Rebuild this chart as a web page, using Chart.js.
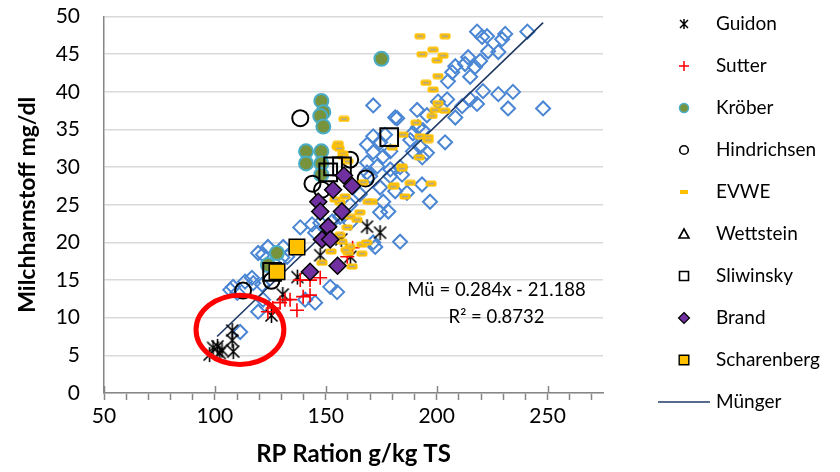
<!DOCTYPE html>
<html>
<head>
<meta charset="utf-8">
<script src="https://cdn.jsdelivr.net/npm/chart.js@4/dist/chart.umd.min.js"></script>
<style>
  html, body { margin: 0; padding: 0; background: #fff; }
  #chart { display: block; }
</style>
</head>
<body>
<canvas id="chart" width="840" height="472"></canvas>
<script>
// Axis ranges / ticks
const xMin = 50, xMax = 275, xStep = 10, xLabelStep = 50;
const yMin = 0, yMax = 50, yStep = 5;

// Series values, [RP g/kg TS, Milchharnstoff mg/dl]
const guidon = [[99.2,6],[101.2,6.2],[103.2,5.7],[108.3,5.5],[107.8,7],[107.8,8.3],[97.6,5.1],[102.2,5.3],
  [125.5,10.3],[130.6,13.1],[137.2,15.4],[147.5,18.3],[161.1,18.1],[157,20.4],[168.6,22.1],[174.5,21.3]];
const sutter = [[123.9,10.8],[126.1,11.3],[129.4,12],[131.6,12.4],[133.9,12.4],[137,11],[139.8,12.8],
  [142.9,13],[138.5,15],[142.9,15],[147.5,15.3],[159.7,18.1],[162.1,19.3]];
const kroeber = [[175.1,44.4],[148,38.8],[148.9,37.3],[147.5,36.8],[148.9,35.4],[141.1,32.1],[148,32.1],
  [141.1,30.5],[148,30.5],[148,29],[128,18.6],[123.9,17]];
const hindrichsen = [[138.5,36.5],[144,27.8],[148.3,27],[161,31],[168,28.5],[112.7,13.6],[125.5,14.9]];
const evwe = [[192.5,47.4],[203.8,47.4],[193.4,45],[198.4,45.6],[202.9,44.8],[200.2,44.2],[200.6,42.1],
  [195.2,41.2],[198.4,40.3],[200.6,38.5],[199.3,37.6],[203.7,37.5],[197.9,36.8],[190.7,35.9],[184.8,34.3],
  [192.5,34.1],[196.2,34],[196.2,33.6],[192.1,31.3],[158.2,36.4],[155.6,33.1],[155.1,32.7],[157.8,31.8],
  [156,32.5],[157.8,31.4],[160,30.8],[184.4,30.1],[184.4,29.8],[180.8,27.6],[188.1,27.9],[197.5,27.8],
  [185.7,26.1],[180,32.6],[170.9,25.4],[166.9,28],[169.1,25.4],[165.4,24],[161,23.4],[164.1,23],
  [159.7,22],[156.4,21],[161,19.4],[160.1,18.6],[166.3,18.5],[158.7,26.1],[156.4,25.3],[154.2,25.7],
  [157.3,20.1],[166.3,19.7],[168.4,20],[152.4,18.8],[159.1,19],[148.3,17.3],[161.9,16.8],[180.4,27.4]];
const wettstein = [];
const sliwinsky = [[178.6,34],[153.3,30.1],[151.1,29.3],[157.3,30.1],[125.8,16.1]];
const brand = [[158.2,28.9],[161.9,27.5],[153.3,27],[146.6,25.4],[147.5,24.1],[157.3,24.1],[151.1,22.1],
  [148.3,20.4],[152,20.4],[155.3,16.9],[142.9,16.1]];
const scharenberg = [[137,19.4],[128,16.1]];
const munger = [[218.2,48],[220.5,47.3],[222.7,47.4],[230.9,47.7],[229.5,47],[240.9,48],[223.2,45.4],
  [227.8,45.3],[219.6,44.1],[214.2,44.6],[212.8,43.7],[217.3,43.3],[208.4,43.4],[207,42.6],[215.1,42],
  [205.1,41.4],[204.7,39],[215.1,39],[220.9,40.1],[227.8,39.7],[234.4,40],[232.2,37.8],[248,37.8],
  [218.2,38.4],[211.5,38.1],[208.4,36.6],[191.2,37.6],[200.6,38.7],[195.6,36.9],[182.2,36.5],[191.6,35.3],
  [189.3,34.5],[193.8,34.9],[203.8,33.3],[176.7,34.3],[179.1,32.1],[188.1,33.6],[192.5,32.7],[195.6,31.9],
  [189.3,32.1],[193.5,31.3],[171.4,38.2],[181.3,36.6],[175.9,31.4],[173.2,30.1],[179.1,29.7],[184.4,29],
  [193.4,27.7],[181.3,26.8],[186.6,26.6],[197,25.4],[175.9,25.4],[178.2,24.1],[183.5,20.1],[168.6,33],
  [168.6,30.6],[165.4,26.4],[161,25],[161,22.6],[156.4,23.4],[152.9,22.8],[147.5,22.6],[143.8,22.4],
  [138.5,22],[145.2,21.3],[150.6,20.6],[130.8,19.4],[123.9,19.4],[121.7,18.4],[130.4,18],[119.5,18.6],
  [132.6,18.1],[116.7,15.3],[117.3,14.6],[113.6,14.8],[108.2,14.1],[106.9,13.7],[110.1,13.3],[121.3,14.4],
  [121.7,12.4],[145.2,12],[152,14.1],[155.1,13.4],[172.3,19.4],[174.5,24],[111.4,8.1],[119.5,10.8],
  [140.7,12.4],[171.4,20],[171.4,34.1],[174.5,33.3],[168.6,29.3],[179.1,28.8],[183.5,30],[174.5,27.3],
  [171.4,32],[170,28.8]];
const mungerLine = [[101,7.5],[248,49.2]];

const equationLines = ['Mü = 0.284x - 21.188', 'R² = 0.8732'];

// Annotation placement (in data units)
const ellipseCenter = [111.3, 8.4];
const ellipseRadius = [19.8, 4.6];
const equationAnchor = [227, 13.7, 10.1];

const FONT = 'Lato, "Liberation Sans", sans-serif';

/**
 * Small canvas markers for styles Chart.js does not have
 */
function asterisk(size, lw) {
  const c = document.createElement('canvas');
  c.width = size; c.height = size;
  const g = c.getContext('2d');
  const m = size / 2, r = size / 2 - 1;
  g.strokeStyle = '#000';
  g.lineWidth = lw;
  g.beginPath();
  g.moveTo(m - r * 0.8, m - r * 0.8); g.lineTo(m + r * 0.8, m + r * 0.8);
  g.moveTo(m + r * 0.8, m - r * 0.8); g.lineTo(m - r * 0.8, m + r * 0.8);
  g.moveTo(m, m - r); g.lineTo(m, m + r);
  g.stroke();
  return c;
}

function dash(w, h) {
  const c = document.createElement('canvas');
  c.width = w; c.height = h;
  const g = c.getContext('2d');
  g.fillStyle = '#FFC000';
  g.beginPath();
  g.roundRect(0.5, 0.5, w - 1, h - 1, 2);
  g.fill();
  g.strokeStyle = '#A0A4B0';
  g.lineWidth = 1.4;
  g.beginPath();
  g.moveTo(3, h / 2); g.lineTo(w - 3, h / 2);
  g.stroke();
  return c;
}

const guidonImg = asterisk(17, 1.6);
const guidonLegendImg = asterisk(12, 1.5);
const evweImg = dash(12, 7);

const pts = arr => arr.map(([x, y]) => ({ x, y }));

// Legend rows (drawn by the plugin below)
const legendRows = [
  { label: 'Guidon', shape: 'image', img: guidonLegendImg },
  { label: 'Sutter', shape: 'cross', r: 5, stroke: '#FF0000', lw: 1.5 },
  { label: 'Kröber', shape: 'circle', r: 4.5, fill: '#77933C', stroke: '#4BACC6', lw: 1.5 },
  { label: 'Hindrichsen', shape: 'circle', r: 4.3, stroke: '#000', lw: 1.6 },
  { label: 'EVWE', shape: 'rect2', w: 8, h: 4, fill: '#FFC000' },
  { label: 'Wettstein', shape: 'triangle', r: 5, stroke: '#000', lw: 1.6 },
  { label: 'Sliwinsky', shape: 'rect', r: 4.5, stroke: '#000', lw: 1.6 },
  { label: 'Brand', shape: 'diamond', r: 5.5, fill: '#7030A0', stroke: '#000', lw: 1.2 },
  { label: 'Scharenberg', shape: 'rect', r: 4.8, fill: '#FFC000', stroke: '#000', lw: 1.4 },
  { label: 'Münger', shape: 'line', r: 26, stroke: '#1F3864', lw: 1.5 }
];

function drawMarker(ctx, m, cx, cy) {
  ctx.save();
  if (m.shape === 'image') {
    ctx.drawImage(m.img, Math.round(cx - m.img.width / 2), Math.round(cy - m.img.height / 2));
    ctx.restore();
    return;
  }
  const r = m.r;
  ctx.lineWidth = m.lw || 1.5;
  ctx.beginPath();
  switch (m.shape) {
    case 'cross':
      ctx.moveTo(cx - r, cy); ctx.lineTo(cx + r, cy);
      ctx.moveTo(cx, cy - r); ctx.lineTo(cx, cy + r);
      break;
    case 'circle':
      ctx.arc(cx, cy, r, 0, Math.PI * 2);
      break;
    case 'triangle':
      ctx.moveTo(cx, cy - r); ctx.lineTo(cx + r, cy + r * 0.8); ctx.lineTo(cx - r, cy + r * 0.8);
      ctx.closePath();
      break;
    case 'rect':
      ctx.rect(cx - r, cy - r, 2 * r, 2 * r);
      break;
    case 'rect2':
      ctx.rect(cx - m.w / 2, cy - m.h / 2, m.w, m.h);
      break;
    case 'diamond':
      ctx.moveTo(cx, cy - r); ctx.lineTo(cx + r, cy); ctx.lineTo(cx, cy + r); ctx.lineTo(cx - r, cy);
      ctx.closePath();
      break;
    case 'line':
      ctx.moveTo(cx - r, cy); ctx.lineTo(cx + r, cy);
      break;
  }
  if (m.fill) { ctx.fillStyle = m.fill; ctx.fill(); }
  if (m.stroke) { ctx.strokeStyle = m.stroke; ctx.stroke(); }
  ctx.restore();
}

/**
 * Ellipse, trendline equation, major x ticks and the legend
 */
const overlayPlugin = {
  id: 'overlay',
  afterDatasetsDraw(chart) {
    const { ctx, scales: { x, y } } = chart;

    // red ellipse round the low Guidon values
    const cx = x.getPixelForValue(ellipseCenter[0]);
    const cy = y.getPixelForValue(ellipseCenter[1]);
    const rx = x.getPixelForValue(ellipseCenter[0] + ellipseRadius[0]) - cx;
    const ry = cy - y.getPixelForValue(ellipseCenter[1] + ellipseRadius[1]);
    ctx.save();
    ctx.strokeStyle = '#FF0000';
    ctx.lineWidth = 5;
    ctx.beginPath();
    ctx.ellipse(cx, cy, rx, ry, 0, 0, Math.PI * 2);
    ctx.stroke();
    ctx.restore();

    // equation
    ctx.save();
    ctx.font = '18.5px ' + FONT;
    ctx.fillStyle = '#000';
    ctx.textAlign = 'center';
    ctx.textBaseline = 'middle';
    const ex = x.getPixelForValue(equationAnchor[0]);
    ctx.fillText(equationLines[0], ex, y.getPixelForValue(equationAnchor[1]));
    ctx.fillText(equationLines[1], ex, y.getPixelForValue(equationAnchor[2]));
    ctx.restore();
  },
  afterDraw(chart) {
    const { ctx, scales: { x } } = chart;

    // major ticks cross the axis
    ctx.save();
    ctx.strokeStyle = '#868686';
    ctx.lineWidth = 1.5;
    ctx.beginPath();
    for (let v = xMin; v <= xMax; v += xLabelStep) {
      const px = Math.round(x.getPixelForValue(v)) + 0.5;
      ctx.moveTo(px, x.top - 7);
      ctx.lineTo(px, x.top);
    }
    ctx.stroke();
    ctx.restore();

    // legend
    ctx.save();
    ctx.font = '19px ' + FONT;
    ctx.fillStyle = '#000';
    ctx.textBaseline = 'middle';
    legendRows.forEach((row, i) => {
      const ry = 24 + i * 42;
      drawMarker(ctx, row, 684, ry);
      ctx.fillText(row.label, 716, ry);
    });
    ctx.restore();
  }
};

const datasets = [
  { label: 'Guidon', data: pts(guidon), pointStyle: guidonImg, order: 10 },
  { label: 'Sutter', data: pts(sutter), pointStyle: 'cross', pointRadius: 7, borderColor: '#FF0000',
    pointBorderWidth: 1.6, order: 9 },
  { label: 'Kröber', data: pts(kroeber), pointStyle: 'circle', pointRadius: 7, backgroundColor: '#77933C',
    borderColor: '#4BACC6', pointBorderWidth: 2, order: 8 },
  { label: 'Hindrichsen', data: pts(hindrichsen), pointStyle: 'circle', pointRadius: 8,
    backgroundColor: 'rgba(0,0,0,0)', borderColor: '#000', pointBorderWidth: 2, order: 7 },
  { label: 'EVWE', data: pts(evwe), pointStyle: evweImg, order: 6 },
  { label: 'Wettstein', data: pts(wettstein), pointStyle: 'triangle', pointRadius: 8,
    backgroundColor: 'rgba(0,0,0,0)', borderColor: '#000', pointBorderWidth: 2, order: 5 },
  { label: 'Sliwinsky', data: pts(sliwinsky), pointStyle: 'rect', pointRadius: 12.5,
    backgroundColor: 'rgba(0,0,0,0)', borderColor: '#000', pointBorderWidth: 2, order: 4 },
  { label: 'Brand', data: pts(brand), pointStyle: 'rectRot', pointRadius: 8.5, backgroundColor: '#7030A0',
    borderColor: '#000', pointBorderWidth: 1.5, order: 3 },
  { label: 'Scharenberg', data: pts(scharenberg), pointStyle: 'rect', pointRadius: 11, backgroundColor: '#FFC000',
    borderColor: '#000', pointBorderWidth: 1.5, order: 2 },
  { label: 'Münger Linie', data: pts(mungerLine), showLine: true, pointRadius: 0, borderColor: '#1F3864',
    borderWidth: 1.6, order: 15 },
  { label: 'Münger', data: pts(munger), pointStyle: 'rectRot', pointRadius: 7, backgroundColor: 'rgba(0,0,0,0)',
    borderColor: '#4A86D4', pointBorderWidth: 2, order: 20 }
];

new Chart(document.getElementById('chart'), {
  type: 'scatter',
  data: { datasets },
  options: {
    responsive: false,
    animation: false,
    events: [],
    layout: { padding: { left: 0, right: 237, top: 0, bottom: 0 } },
    plugins: {
      legend: { display: false },
      tooltip: { enabled: false }
    },
    scales: {
      x: {
        type: 'linear',
        min: xMin,
        max: xMax,
        afterFit: s => { s.height = 79; },
        border: { color: '#868686', width: 1.5 },
        grid: { display: true, drawOnChartArea: false, drawTicks: true, tickLength: 7, tickColor: '#868686', tickWidth: 1.5 },
        ticks: {
          stepSize: xStep,
          includeBounds: false,
          autoSkip: false,
          maxRotation: 0,
          padding: 4,
          color: '#000',
          font: { family: FONT, size: 21 },
          callback: v => (v % xLabelStep === 0 ? v : '')
        },
        title: {
          display: true,
          text: 'RP Ration g/kg TS',
          color: '#000',
          font: { family: FONT, size: 24, weight: 'bold' },
          padding: { top: 0, bottom: 3 }
        }
      },
      y: {
        type: 'linear',
        min: yMin,
        max: yMax,
        afterFit: s => { s.width = 104; },
        border: { color: '#868686', width: 1.5 },
        grid: { color: '#D9D9D9', lineWidth: 1.5, drawTicks: true, tickLength: 20, tickColor: 'rgba(0,0,0,0)' },
        ticks: {
          stepSize: yStep,
          padding: 4,
          color: '#000',
          font: { family: FONT, size: 21 }
        },
        title: {
          display: true,
          text: 'Milchharnstoff mg/dl',
          color: '#000',
          font: { family: FONT, size: 23, weight: 'bold' },
          padding: { top: 14, bottom: 0 }
        }
      }
    }
  },
  plugins: [overlayPlugin]
});
</script>
</body>
</html>
